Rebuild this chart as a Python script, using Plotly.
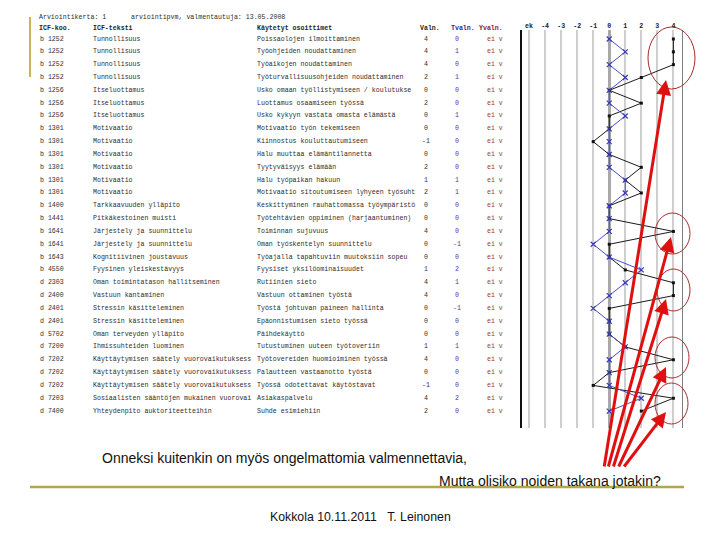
import plotly.graph_objects as go

W, H = 720, 540

# ---------------- data ----------------
codes = ["b 1252", "b 1252", "b 1252", "b 1252", "b 1256", "b 1256", "b 1256",
         "b 1301", "b 1301", "b 1301", "b 1301", "b 1301", "b 1301", "b 1400",
         "b 1441", "b 1641", "b 1641", "b 1643", "b 4550", "d 2303", "d 2400",
         "d 2401", "d 2401", "d 5702", "d 7200", "d 7202", "d 7202", "d 7202",
         "d 7203", "d 7400"]
icf_texts = ["Tunnollisuus", "Tunnollisuus", "Tunnollisuus", "Tunnollisuus",
             "Itseluottamus", "Itseluottamus", "Itseluottamus",
             "Motivaatio", "Motivaatio", "Motivaatio", "Motivaatio", "Motivaatio", "Motivaatio",
             "Tarkkaavuuden ylläpito", "Pitkäkestoinen muisti",
             "Järjestely ja suunnittelu", "Järjestely ja suunnittelu",
             "Kognitiivinen joustavuus", "Fyysinen yleiskestävyys",
             "Oman toimintatason hallitseminen", "Vastuun kantaminen",
             "Stressin käsitteleminen", "Stressin käsitteleminen",
             "Oman terveyden ylläpito", "Ihmissuhteiden luominen",
             "Käyttäytymisen säätely vuorovaikutuksess",
             "Käyttäytymisen säätely vuorovaikutuksess",
             "Käyttäytymisen säätely vuorovaikutuksess",
             "Sosiaalisten sääntöjen mukainen vuorovai",
             "Yhteydenpito auktoriteetteihin"]
indicators = ["Poissaolojen ilmoittaminen", "Työohjeiden noudattaminen",
              "Työaikojen noudattaminen", "Työturvallisuusohjeiden noudattaminen",
              "Usko omaan työllistymiseen / koulutukse", "Luottamus osaamiseen työssä",
              "Usko kykyyn vastata omasta elämästä", "Motivaatio työn tekemiseen",
              "Kiinnostus kouluttautumiseen", "Halu muuttaa elämäntilannetta",
              "Tyytyväisyys elämään", "Halu työpaikan hakuun",
              "Motivaatio sitoutumiseen lyhyeen työsuht",
              "Keskittyminen rauhattomassa työympäristö",
              "Työtehtävien oppiminen (harjaantuminen)", "Toiminnan sujuvuus",
              "Oman työskentelyn suunnittelu", "Työajalla tapahtuviin muutoksiin sopeu",
              "Fyysiset yksilöominaisuudet", "Rutiinien sieto", "Vastuun ottaminen työstä",
              "Työstä johtuvan paineen hallinta", "Epäonnistumisen sieto työssä",
              "Päihdekäyttö", "Tutustuminen uuteen työtoveriin",
              "Työtovereiden huomioiminen työssä", "Palautteen vastaanotto työstä",
              "Työssä odotettavat käytöstavat", "Asiakaspalvelu", "Suhde esimiehiin"]
valn = [4, 4, 4, 2, 0, 2, 0, 0, -1, 0, 2, 1, 2, 0, 0, 4, 0, 0, 1, 4, 4, 0, 0, 0, 1, 4, 0, -1, 4, 2]
tvaln = [0, 1, 0, 1, 0, 0, 1, 0, 0, 0, 0, 1, 1, 0, 0, 0, -1, 0, 2, 1, 0, -1, 0, 0, 1, 0, 0, 0, 2, 0]
yvaln = ["ei v"] * 30
rows = list(range(1, len(valn) + 1))

tick_vals = [-5, -4, -3, -2, -1, 0, 1, 2, 3, 4]
tick_text = ["ek", "-4", "-3", "-2", "-1", "0", "1", "2", "3", "4"]

header_info = ["Arviointikerta: 1", "arviointipvm, valmentautuja: 13.05.2008"]
col_headers = ["ICF-koo.", "ICF-teksti", "Käytetyt osoittimet", "Valn.", "Tvaln.", "Yvaln."]

line1 = "Onneksi kuitenkin on myös ongelmattomia valmennettavia,"
line2 = "Mutta olisiko noiden takana jotakin?"
footer = "Kokkola 10.11.2011\u00a0\u00a0\u00a0T. Leinonen"


def px(x):
    return x / W


def py(y):
    return 1 - y / H


# ---------------- figure ----------------
fig = go.Figure()
fig.add_trace(go.Scatter(
    x=valn, y=rows, mode="lines+markers", showlegend=False, hoverinfo="skip",
    line=dict(color="#1a1a1a", width=1),
    marker=dict(symbol="square", size=3, color="#111111")))
fig.add_trace(go.Scatter(
    x=tvaln, y=rows, mode="lines+markers", showlegend=False, hoverinfo="skip",
    line=dict(color="#4b4bc4", width=1),
    marker=dict(symbol="x-thin", size=5, line=dict(width=1.2, color="#3a3ab8"))))

MONO = "Liberation Mono"
TXT = "#2e2e2e"
FS = 6.6
ann = []

# header lines
ann.append(dict(x=px(37), y=py(18), xref="paper", yref="paper", text=header_info[0],
                xanchor="left", yanchor="middle", showarrow=False,
                font=dict(family=MONO, size=FS, color=TXT)))
ann.append(dict(x=px(129), y=py(18), xref="paper", yref="paper", text=header_info[1],
                xanchor="left", yanchor="middle", showarrow=False,
                font=dict(family=MONO, size=FS, color=TXT)))
hdr_x = [37, 91, 255, 418, 449, 477]
hdr_c = ["#1e1e1e", "#1e1e1e", "#1e1e1e", "#1e1e1e", "#2a2aa0", "#8b1a1a"]
for t, xx, cc in zip(col_headers, hdr_x, hdr_c):
    ann.append(dict(x=px(xx), y=py(29), xref="paper", yref="paper", text="<b>" + t + "</b>",
                    xanchor="left", yanchor="middle", showarrow=False,
                    font=dict(family=MONO, size=FS, color=cc)))

# table rows
for r, c, it, ind, v, tv, yv in zip(rows, codes, icf_texts, indicators, valn, tvaln, yvaln):
    f = dict(family=MONO, size=FS, color=TXT)
    ann.append(dict(x=px(38), y=r, xref="paper", yref="y", text=c, xanchor="left",
                    yanchor="middle", showarrow=False, font=f))
    ann.append(dict(x=px(91), y=r, xref="paper", yref="y", text=it, xanchor="left",
                    yanchor="middle", showarrow=False, font=f))
    ann.append(dict(x=px(255), y=r, xref="paper", yref="y", text=ind, xanchor="left",
                    yanchor="middle", showarrow=False, font=f))
    ann.append(dict(x=px(426), y=r, xref="paper", yref="y", text=str(v), xanchor="center",
                    yanchor="middle", showarrow=False, font=f))
    ann.append(dict(x=px(457), y=r, xref="paper", yref="y", text=str(tv), xanchor="center",
                    yanchor="middle", showarrow=False,
                    font=dict(family=MONO, size=FS, color="#3a3aa6")))
    ann.append(dict(x=px(485), y=r, xref="paper", yref="y", text=yv, xanchor="left",
                    yanchor="middle", showarrow=False,
                    font=dict(family=MONO, size=FS, color="#9a3a3a")))

# bottom texts
ann.append(dict(x=px(100), y=py(458), xref="paper", yref="paper", text=line1,
                xanchor="left", yanchor="middle", showarrow=False,
                font=dict(family="Liberation Sans", size=14, color="#111111")))
ann.append(dict(x=px(663), y=py(481), xref="paper", yref="paper", text=line2,
                xanchor="right", yanchor="middle", showarrow=False,
                font=dict(family="Liberation Sans", size=14, color="#111111")))
ann.append(dict(x=px(360), y=py(517), xref="paper", yref="paper", text=footer,
                xanchor="center", yanchor="middle", showarrow=False,
                font=dict(family="Liberation Sans", size=12.3, color="#111111")))

# red arrows (head, tail) in pixel positions
arrows = [((666, 80), (604, 468)), ((671, 237), (608, 468)), ((666, 299), (613, 468)),
          ((666, 367), (618, 468)), ((666, 412), (623, 468))]
for (hx, hy), (tx, ty) in arrows:
    ann.append(dict(x=px(hx), y=py(hy), xref="paper", yref="paper", text="",
                    showarrow=True, ax=tx - hx, ay=ty - hy, arrowhead=2, arrowsize=1,
                    arrowwidth=3, arrowcolor="#e01010", standoff=0))

shapes = []
# red ellipses
for x0, x1, y0, y1 in [(648, 695, 27, 89), (655, 690, 213, 254), (657, 690, 269, 311),
                       (655, 689, 337, 378), (655, 688, 383, 424)]:
    shapes.append(dict(type="circle", xref="paper", yref="paper",
                       x0=px(x0), x1=px(x1), y0=py(y1), y1=py(y0),
                       line=dict(color="#a82c2c", width=1)))
# slide decorations
shapes.append(dict(type="rect", xref="paper", yref="paper", x0=px(29), x1=px(31),
                   y0=py(77), y1=py(17), fillcolor="#c9b456", line=dict(width=0)))
shapes.append(dict(type="line", xref="paper", yref="paper", x0=px(30), x1=px(684),
                   y0=py(487), y1=py(487), line=dict(color="#b5a54a", width=2.5)))
# right border of chart
shapes.append(dict(type="line", xref="x", yref="y domain", x0=4.6, x1=4.6, y0=0, y1=1,
                   line=dict(color="#555555", width=1.5)))

fig.update_layout(
    width=W, height=H, autosize=False,
    margin=dict(l=0, r=0, t=0, b=0),
    paper_bgcolor="white", plot_bgcolor="white",
    annotations=ann, shapes=shapes,
    xaxis=dict(domain=[522 / W, 683 / W], range=[-5.44, 4.6], side="top",
               tickvals=tick_vals, ticktext=["<b>" + t + "</b>" for t in tick_text], ticks="",
               tickfont=dict(family=MONO, size=6.6, color="#222222"),
               showgrid=True, gridcolor="#cfcfcf", gridwidth=2,
               zeroline=True, zerolinecolor="#a8a8a8", zerolinewidth=3,
               showline=False, fixedrange=True),
    yaxis=dict(domain=[1 - 428 / H, 1 - 30 / H], range=[31.32, 0.2985],
               showgrid=False, zeroline=False, showticklabels=False, ticks="",
               showline=True, linecolor="#111111", linewidth=1.5, fixedrange=True),
)

fig.write_html("out.html", config={"displayModeBar": False},
               post_script="document.body.style.margin='0';document.body.style.overflow='hidden';")
